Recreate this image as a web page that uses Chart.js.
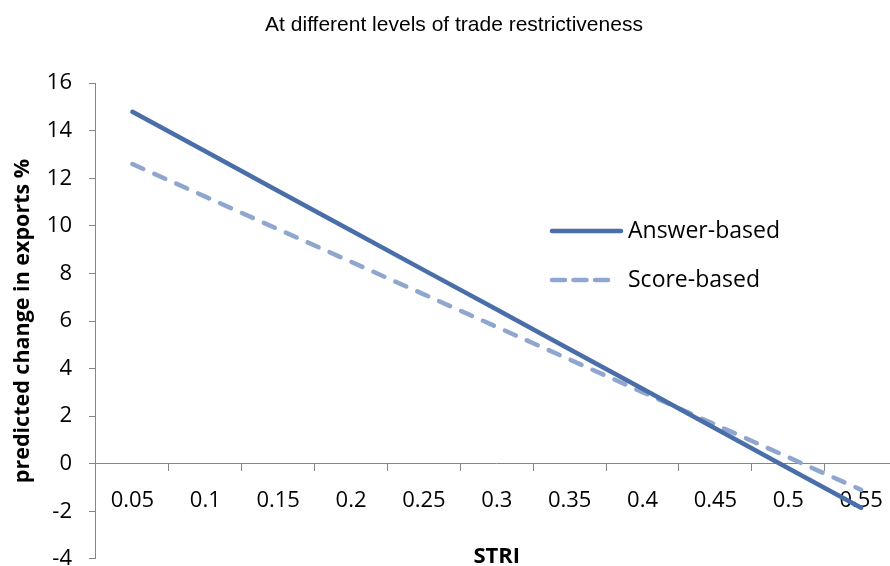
<!DOCTYPE html>
<html>
<head>
<meta charset="utf-8">
<script src="https://cdn.jsdelivr.net/npm/chart.js@4.4.0/dist/chart.umd.min.js"></script>
<style>
    html, body { margin: 0; padding: 0; background: #fff; overflow: hidden; }
    #wrap { position: relative; width: 900px; height: 589px; }
</style>
</head>
<body>
<div id="wrap"><canvas id="striChart"></canvas></div>
<script>
var stri = ['0.05', '0.1', '0.15', '0.2', '0.25', '0.3', '0.35', '0.4', '0.45', '0.5', '0.55'];
var answerBased = [14.8, 13.14, 11.47, 9.81, 8.14, 6.48, 4.81, 3.15, 1.48, -0.19, -1.85];
var scoreBased = [12.6, 11.23, 9.86, 8.49, 7.12, 5.75, 4.38, 3.01, 1.64, 0.27, -1.1];
var yTicks = [-4, -2, 0, 2, 4, 6, 8, 10, 12, 14, 16];

var axisGrey = '#868686';
var labelFont = { family: 'Open Sans', size: 22 };
var boldFont = { family: 'Open Sans', size: 22, weight: 'bold' };

// legend drawn inside the plot, Excel style
var insideLegend = {
    id: 'insideLegend',
    afterDatasetsDraw: function(chart) {
        var ctx = chart.ctx;
        var x0 = 552, rows = [231, 280];
        chart.data.datasets.forEach(function(ds, i) {
            var y = rows[i];
            ctx.save();
            ctx.strokeStyle = ds.borderColor;
            ctx.lineWidth = ds.borderWidth;
            ctx.lineCap = 'round';
            ctx.setLineDash(i === 0 ? [] : [13, 8.5]);
            ctx.beginPath();
            ctx.moveTo(x0, y);
            ctx.lineTo(x0 + (i === 0 ? 69 : 57), y);
            ctx.stroke();
            ctx.setLineDash([]);
            ctx.fillStyle = '#000';
            ctx.font = '23px "Open Sans"';
            ctx.textBaseline = 'middle';
            ctx.fillText(ds.label, 628, y);
            ctx.restore();
        });
    }
};

new Chart(document.getElementById('striChart'), {
    type: 'line',
    data: {
        labels: stri,
        datasets: [{
            label: 'Answer-based',
            data: answerBased,
            borderColor: '#4A6EA9',
            borderWidth: 4.5,
            pointRadius: 0,
            borderCapStyle: 'round',
            tension: 0
        }, {
            label: 'Score-based',
            data: scoreBased,
            borderColor: '#8FA6CE',
            borderWidth: 4.5,
            borderDash: [12, 12],
            borderCapStyle: 'round',
            pointRadius: 0,
            tension: 0
        }]
    },
    options: {
        responsive: true,
        maintainAspectRatio: false,
        animation: false,
        layout: { autoPadding: false, padding: { left: 10, right: 2, top: 0, bottom: 7 } },
        plugins: {
            legend: { display: false },
            tooltip: { enabled: false },
            title: {
                display: true,
                text: 'At different levels of trade restrictiveness',
                color: '#000',
                font: { family: 'Liberation Sans', size: 21, weight: 'normal' },
                padding: { top: 13, bottom: 45 }
            }
        },
        scales: {
            x: {
                type: 'category',
                position: { y: 0 },
                offset: true,
                grid: {
                    offset: true,
                    drawOnChartArea: false,
                    drawTicks: true,
                    tickLength: 7,
                    color: axisGrey
                },
                border: { color: axisGrey, width: 1 },
                ticks: { color: '#000', font: labelFont, padding: 17, maxRotation: 0, autoSkip: false },
                title: {
                    display: true,
                    text: 'STRI',
                    color: '#000',
                    font: boldFont,
                    padding: { top: 12, bottom: 0 }
                }
            },
            y: {
                min: -4,
                max: 16,
                afterBuildTicks: function(scale) {
                    scale.ticks = yTicks.map(function(v) { return { value: v }; });
                },
                grid: {
                    drawOnChartArea: false,
                    drawTicks: true,
                    tickLength: 7,
                    color: axisGrey
                },
                border: { color: axisGrey, width: 1 },
                ticks: { color: '#000', font: labelFont, padding: 17 },
                title: {
                    display: true,
                    text: 'predicted change in exports %',
                    color: '#000',
                    font: { family: 'Open Sans', size: 21.5, weight: 'bold' },
                    padding: { top: 0, bottom: -6 }
                }
            }
        }
    },
    plugins: [insideLegend]
});
</script>
</body>
</html>
